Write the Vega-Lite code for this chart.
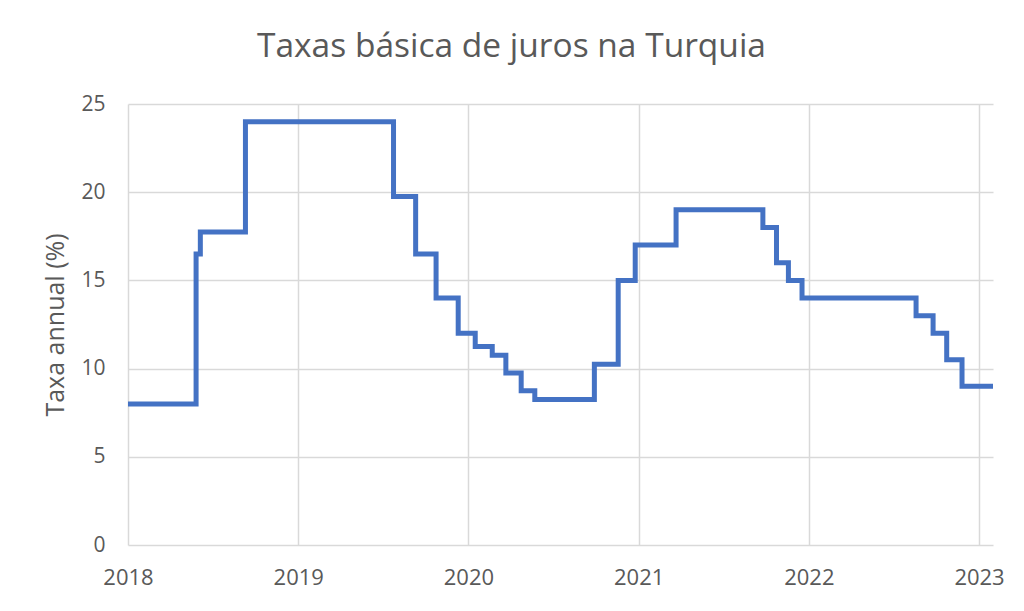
{
  "$schema": "https://vega.github.io/schema/vega-lite/v6.json",
  "autosize": "none",
  "width": 865,
  "height": 441,
  "padding": {"left": 128, "top": 104, "right": 31, "bottom": 66},
  "background": "white",
  "title": {
    "text": "Taxas básica de juros na Turquia",
    "font": "Open Sans",
    "fontSize": 33.5,
    "fontWeight": "normal",
    "color": "#595959",
    "anchor": "middle",
    "dx": -49,
    "offset": 29
  },
  "config": {
    "view": {"stroke": null},
    "axis": {
      "labelFont": "Open Sans",
      "titleFont": "Open Sans",
      "labelColor": "#595959",
      "titleColor": "#595959",
      "gridColor": "#d9d9d9",
      "gridWidth": 1.5,
      "domain": false,
      "ticks": false
    }
  },
  "data": {
    "values": [
      {"ano": 2018.0, "taxa": 8},
      {"ano": 2018.40, "taxa": 16.5},
      {"ano": 2018.425, "taxa": 17.75},
      {"ano": 2018.69, "taxa": 24},
      {"ano": 2019.56, "taxa": 19.75},
      {"ano": 2019.69, "taxa": 16.5},
      {"ano": 2019.81, "taxa": 14},
      {"ano": 2019.94, "taxa": 12},
      {"ano": 2020.04, "taxa": 11.25},
      {"ano": 2020.14, "taxa": 10.75},
      {"ano": 2020.22, "taxa": 9.75},
      {"ano": 2020.31, "taxa": 8.75},
      {"ano": 2020.39, "taxa": 8.25},
      {"ano": 2020.74, "taxa": 10.25},
      {"ano": 2020.88, "taxa": 15},
      {"ano": 2020.98, "taxa": 17},
      {"ano": 2021.22, "taxa": 19},
      {"ano": 2021.73, "taxa": 18},
      {"ano": 2021.81, "taxa": 16},
      {"ano": 2021.88, "taxa": 15},
      {"ano": 2021.96, "taxa": 14},
      {"ano": 2022.63, "taxa": 13},
      {"ano": 2022.73, "taxa": 12},
      {"ano": 2022.81, "taxa": 10.5},
      {"ano": 2022.90, "taxa": 9},
      {"ano": 2023.082, "taxa": 9}
    ]
  },
  "mark": {"type": "line", "interpolate": "step-after", "color": "#4472C4", "strokeWidth": 5, "strokeJoin": "miter", "clip": true},
  "encoding": {
    "x": {
      "field": "ano",
      "type": "quantitative",
      "scale": {"domain": [2018, 2023.082], "nice": false, "zero": false},
      "axis": {
        "title": null,
        "values": [2018, 2019, 2020, 2021, 2022, 2023],
        "format": "d",
        "labelFontSize": 22,
        "labelPadding": 22,
        "labelFlush": false
      }
    },
    "y": {
      "field": "taxa",
      "type": "quantitative",
      "scale": {"domain": [0, 25], "nice": false},
      "axis": {
        "title": "Taxa annual (%)",
        "values": [0, 5, 10, 15, 20, 25],
        "labelFontSize": 21,
        "labelPadding": 23,
        "titleFontSize": 25,
        "titleFontWeight": "normal",
        "titlePadding": 12
      }
    }
  }
}
